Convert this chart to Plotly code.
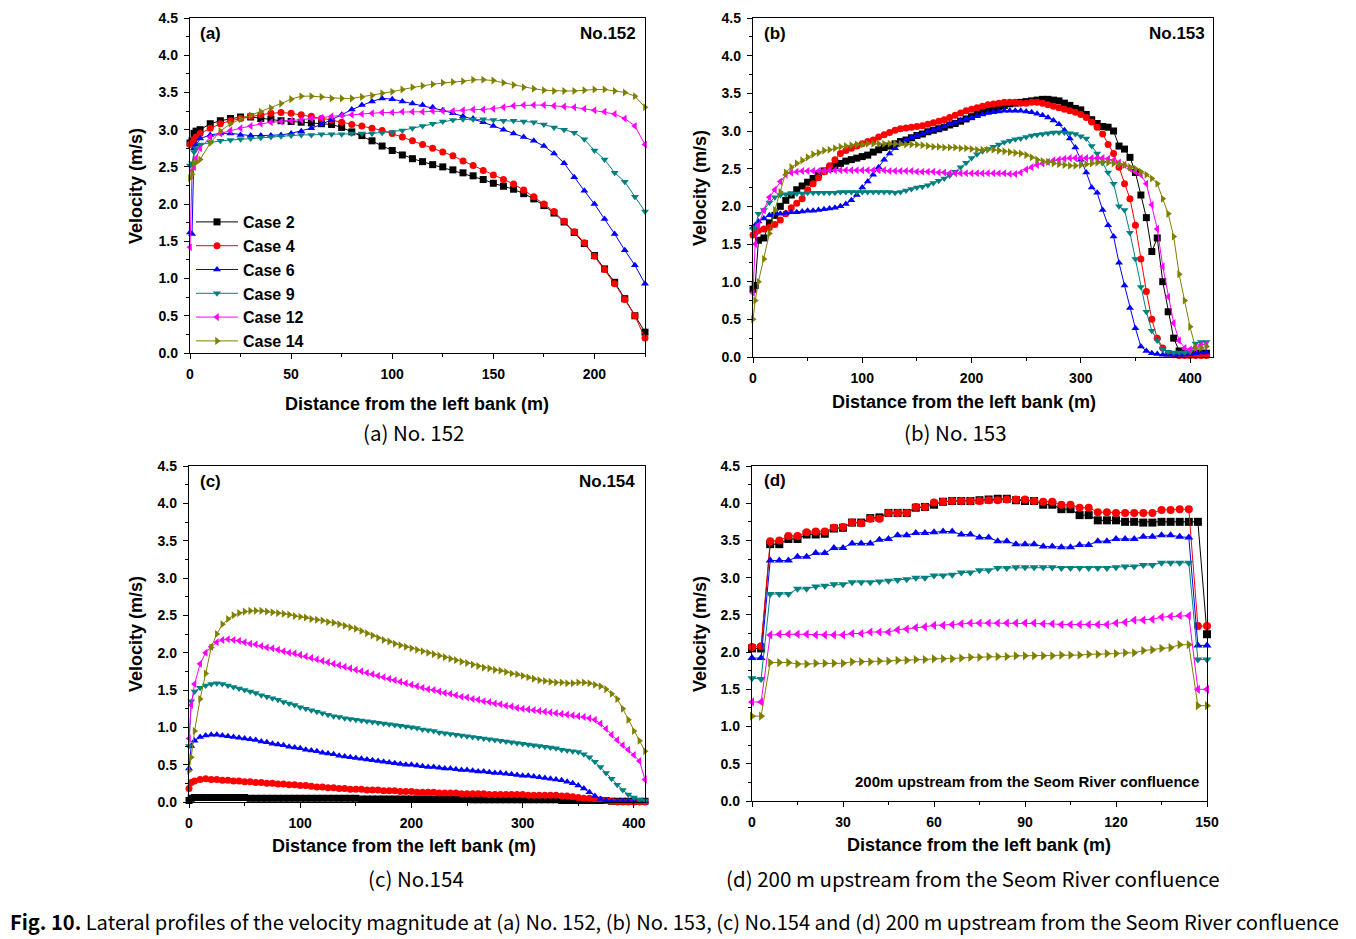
import plotly.graph_objects as go

W, H = 1356, 939

case_names = ["Case 2", "Case 4", "Case 6", "Case 9", "Case 12", "Case 14"]
case_colors = ["#000000", "#FF0000", "#0000FF", "#008080", "#FF00FF", "#808000"]
case_symbols = ["square", "circle", "triangle-up", "triangle-down", "triangle-left", "triangle-right"]

# ---- (a) No.152 ----
x_a = [0, 1, 2, 3, 5, 10, 15, 20, 25, 30, 35, 40, 45, 50, 55, 60, 65, 70, 75, 80, 85, 90, 95, 100,
       105, 110, 115, 120, 125, 130, 135, 140, 145, 150, 155, 160, 165, 170, 175, 180, 185, 190,
       195, 200, 205, 210, 215, 220, 225]
a_case2 = [2.82, 2.85, 2.95, 2.98, 3.0, 3.08, 3.12, 3.15, 3.17, 3.17, 3.15, 3.14, 3.12, 3.11, 3.1,
           3.09, 3.08, 3.07, 3.03, 2.97, 2.92, 2.85, 2.78, 2.72, 2.66, 2.61, 2.57, 2.53, 2.5, 2.46,
           2.42, 2.38, 2.33, 2.28, 2.24, 2.2, 2.14, 2.07, 1.98, 1.88, 1.76, 1.62, 1.47, 1.31, 1.13,
           0.95, 0.73, 0.5, 0.28]
a_case4 = [2.8, 2.82, 2.86, 2.9, 2.95, 3.02, 3.08, 3.12, 3.15, 3.18, 3.2, 3.22, 3.23, 3.22, 3.2,
           3.18, 3.15, 3.13, 3.1, 3.07, 3.05, 3.02, 2.99, 2.95, 2.9, 2.85, 2.8, 2.75, 2.7, 2.65,
           2.58, 2.52, 2.45, 2.39, 2.33, 2.27, 2.19, 2.1, 2.0, 1.9, 1.77, 1.63, 1.48, 1.3, 1.12,
           0.93, 0.72, 0.5, 0.2]
a_case6 = [1.62, 1.6, 2.75, 2.8, 2.88, 2.93, 2.95, 2.95, 2.93, 2.92, 2.92, 2.92, 2.93, 2.95, 2.98,
           3.02, 3.07, 3.13, 3.2, 3.27, 3.33, 3.38, 3.42, 3.41, 3.38, 3.35, 3.33, 3.3, 3.26, 3.22,
           3.18, 3.15, 3.1, 3.05, 3.0, 2.95, 2.9, 2.85, 2.78, 2.68, 2.55, 2.36, 2.18, 2.0, 1.8,
           1.6, 1.38, 1.18, 0.93]
a_case9 = [2.52, 2.55, 2.7, 2.75, 2.8, 2.83, 2.85, 2.86, 2.87, 2.88, 2.89, 2.9, 2.91, 2.92, 2.93,
           2.93, 2.94, 2.94, 2.94, 2.95, 2.95, 2.95, 2.96, 2.97, 2.99, 3.02, 3.05, 3.08, 3.11, 3.13,
           3.14, 3.14, 3.14, 3.13, 3.12, 3.12, 3.11, 3.1, 3.07, 3.03, 3.0, 2.96, 2.87, 2.72, 2.6,
           2.42, 2.3, 2.1, 1.9]
a_case12 = [1.42, 2.45, 2.5, 2.62, 2.75, 2.9, 2.95, 2.99, 3.02, 3.05, 3.08, 3.1, 3.11, 3.12, 3.13,
            3.15, 3.16, 3.18, 3.19, 3.2, 3.21, 3.22, 3.23, 3.23, 3.24, 3.24, 3.24, 3.25, 3.25, 3.25,
            3.26, 3.27, 3.27, 3.28, 3.3, 3.32, 3.33, 3.33, 3.33, 3.32, 3.31, 3.3, 3.28, 3.26, 3.24,
            3.21, 3.15, 3.05, 2.8]
a_case14 = [2.35, 2.4, 2.55, 2.56, 2.6, 2.82, 2.98, 3.08, 3.14, 3.19, 3.24, 3.29, 3.35, 3.41, 3.45,
            3.45, 3.44, 3.42, 3.42, 3.42, 3.44, 3.46, 3.49, 3.51, 3.54, 3.57, 3.59, 3.61, 3.63, 3.64,
            3.65, 3.67, 3.67, 3.66, 3.63, 3.6, 3.57, 3.55, 3.53, 3.52, 3.52, 3.52, 3.53, 3.54, 3.54,
            3.52, 3.5, 3.45, 3.3]

# ---- (b) No.153 ----
x_b = [0, 2,
       5, 10, 15, 20, 25, 30, 35, 40, 45, 50,
       55, 60, 65, 70, 75, 80, 85, 90, 95, 100,
       105, 110, 115, 120, 125, 130, 135, 140, 145, 150,
       155, 160, 165, 170, 175, 180, 185, 190, 195, 200,
       205, 210, 215, 220, 225, 230, 235, 240, 245, 250,
       255, 260, 265, 270, 275, 280, 285, 290, 295, 300,
       305, 310, 315, 320, 325, 330, 335, 340, 345, 350,
       355, 360, 365, 370, 375, 380, 385, 390, 395, 400,
       405, 410, 415]
b_case2 = [0.9, 0.95,
           1.55, 1.58, 1.78, 1.88, 2.0, 2.08, 2.15, 2.22, 2.27, 2.32,
           2.37, 2.42, 2.47, 2.5, 2.54, 2.57, 2.6, 2.62, 2.64, 2.66,
           2.68, 2.72, 2.75, 2.78, 2.8, 2.83, 2.86, 2.88, 2.91, 2.94,
           2.96, 2.99, 3.01, 3.03, 3.05, 3.08, 3.1, 3.13, 3.16, 3.19,
           3.22, 3.25, 3.27, 3.3, 3.32, 3.34, 3.36, 3.37, 3.38, 3.39,
           3.4, 3.41, 3.42, 3.42, 3.41, 3.4, 3.37, 3.34, 3.3, 3.28,
           3.22, 3.15, 3.1, 3.06, 3.05, 3.0, 2.8, 2.76, 2.65, 2.45,
           2.15, 1.85, 1.4, 1.58, 1.0, 0.6, 0.25, 0.08, 0.05, 0.05,
           0.05, 0.05, 0.05]
b_case4 = [1.62, 1.65,
           1.68, 1.7, 1.72, 1.76, 1.82, 1.9, 1.98, 2.04, 2.1, 2.22,
           2.3, 2.38, 2.46, 2.54, 2.62, 2.7, 2.74, 2.77, 2.8, 2.83,
           2.86, 2.88, 2.92, 2.95, 2.98, 3.01, 3.03, 3.04, 3.05, 3.06,
           3.07, 3.09, 3.11, 3.13, 3.15, 3.18, 3.21, 3.24, 3.27, 3.29,
           3.31, 3.33, 3.35, 3.36, 3.37, 3.38, 3.38, 3.38, 3.37, 3.37,
           3.38, 3.38, 3.37, 3.35, 3.33, 3.31, 3.29, 3.27, 3.25, 3.22,
           3.18, 3.12, 3.05, 2.96, 2.82, 2.7, 2.52, 2.3, 2.1, 1.75,
           1.3, 0.87, 0.5, 0.25, 0.12, 0.05, 0.03, 0.02, 0.02, 0.02,
           0.02, 0.02, 0.02]
b_case6 = [1.72, 1.75,
           1.8, 1.84, 1.88, 1.9, 1.9, 1.91, 1.92, 1.92, 1.93, 1.94,
           1.94, 1.95, 1.96, 1.97, 1.98, 2.0, 2.03, 2.08, 2.15, 2.25,
           2.33, 2.42, 2.52, 2.62, 2.7, 2.77, 2.83, 2.88, 2.91, 2.94,
           2.96, 2.99, 3.01, 3.03, 3.06, 3.09, 3.11, 3.14, 3.16, 3.18,
           3.2, 3.22, 3.24, 3.25, 3.26, 3.27, 3.27, 3.27, 3.27, 3.26,
           3.25, 3.23, 3.21, 3.18, 3.14, 3.09, 3.01, 2.9, 2.78, 2.62,
           2.45, 2.25, 2.18, 1.95, 1.75, 1.6, 1.25, 0.95, 0.65, 0.38,
           0.14, 0.08, 0.05, 0.04, 0.03, 0.03, 0.03, 0.03, 0.03, 0.04,
           0.05, 0.06, 0.06]
b_case9 = [1.7, 1.72,
           1.9, 1.95, 2.05, 2.12, 2.15, 2.16, 2.17, 2.17, 2.17, 2.18,
           2.18, 2.18, 2.18, 2.18, 2.18, 2.19, 2.19, 2.19, 2.19, 2.19,
           2.19, 2.19, 2.19, 2.19, 2.19, 2.18, 2.19, 2.21, 2.23, 2.25,
           2.26, 2.28, 2.31, 2.34, 2.37, 2.41, 2.46, 2.52, 2.58, 2.64,
           2.69, 2.73, 2.76, 2.79, 2.82, 2.85, 2.87, 2.89, 2.9, 2.92,
           2.94, 2.95, 2.96, 2.97, 2.98, 2.98, 2.98, 2.97, 2.96, 2.93,
           2.9, 2.8, 2.7, 2.58, 2.45, 2.3, 2.0, 1.95, 1.65, 1.3,
           0.93, 0.6, 0.35, 0.22, 0.1, 0.07, 0.06, 0.06, 0.06, 0.07,
           0.18, 0.2, 0.2]
b_case12 = [0.85, 1.5,
            1.75, 1.95, 2.12, 2.22, 2.33, 2.42, 2.45, 2.46, 2.47, 2.47,
            2.47, 2.47, 2.47, 2.48, 2.48, 2.48, 2.48, 2.48, 2.48, 2.48,
            2.48, 2.48, 2.48, 2.48, 2.47, 2.47, 2.47, 2.47, 2.47, 2.46,
            2.46, 2.46, 2.46, 2.45, 2.45, 2.44, 2.44, 2.44, 2.44, 2.44,
            2.44, 2.44, 2.44, 2.44, 2.44, 2.44, 2.43, 2.43, 2.45, 2.49,
            2.52, 2.55, 2.57, 2.59, 2.61, 2.62, 2.63, 2.64, 2.64, 2.64,
            2.64, 2.64, 2.64, 2.64, 2.63, 2.61, 2.58, 2.55, 2.5, 2.46,
            2.42, 2.3, 2.02, 1.7, 1.2, 0.8, 0.45, 0.22, 0.12, 0.1,
            0.12, 0.16, 0.17]
b_case14 = [0.5, 0.75,
            1.0, 1.3, 1.64, 1.95, 2.19, 2.45, 2.52, 2.57, 2.61, 2.65,
            2.69, 2.71, 2.74, 2.75, 2.77, 2.79, 2.8, 2.81, 2.82, 2.82,
            2.83, 2.83, 2.83, 2.83, 2.83, 2.83, 2.83, 2.82, 2.82, 2.82,
            2.81, 2.8, 2.79, 2.79, 2.78, 2.78, 2.78, 2.77, 2.77, 2.76,
            2.75, 2.75, 2.75, 2.75, 2.74, 2.73, 2.72, 2.71, 2.7, 2.68,
            2.65, 2.62, 2.6, 2.59, 2.57, 2.56, 2.55, 2.54, 2.54, 2.55,
            2.56, 2.57, 2.58, 2.59, 2.58, 2.57, 2.56, 2.55, 2.52, 2.5,
            2.46, 2.42, 2.37, 2.3, 2.1, 1.9, 1.6, 1.1, 0.75, 0.4,
            0.12, 0.12, 0.14]

# ---- (c) No.154 ----
x_c = [0, 2,
       5, 10, 15, 20, 25, 30, 35, 40, 45, 50,
       55, 60, 65, 70, 75, 80, 85, 90, 95, 100,
       105, 110, 115, 120, 125, 130, 135, 140, 145, 150,
       155, 160, 165, 170, 175, 180, 185, 190, 195, 200,
       205, 210, 215, 220, 225, 230, 235, 240, 245, 250,
       255, 260, 265, 270, 275, 280, 285, 290, 295, 300,
       305, 310, 315, 320, 325, 330, 335, 340, 345, 350,
       355, 360, 365, 370, 375, 380, 385, 390, 395, 400,
       405, 410]
c_case2 = [0.02, 0.05,
           0.06, 0.06, 0.06, 0.06, 0.06, 0.06, 0.06, 0.06, 0.06, 0.06,
           0.05, 0.05, 0.05, 0.05, 0.05, 0.05, 0.05, 0.05, 0.05, 0.05,
           0.05, 0.05, 0.05, 0.05, 0.05, 0.05, 0.05, 0.05, 0.05, 0.05,
           0.04, 0.04, 0.04, 0.04, 0.04, 0.04, 0.04, 0.04, 0.04, 0.04,
           0.04, 0.04, 0.04, 0.04, 0.04, 0.04, 0.04, 0.04, 0.04, 0.04,
           0.03, 0.03, 0.03, 0.03, 0.03, 0.03, 0.03, 0.03, 0.03, 0.03,
           0.03, 0.03, 0.03, 0.03, 0.03, 0.03, 0.02, 0.02, 0.02, 0.02,
           0.02, 0.02, 0.02, 0.02, 0.02, 0.01, 0.01, 0.01, 0.01, 0.01,
           0.01, 0.01]
c_case4 = [0.18, 0.26,
           0.28, 0.3, 0.31, 0.3, 0.3, 0.29, 0.29, 0.28, 0.28, 0.27,
           0.27, 0.26, 0.26, 0.25, 0.25, 0.24, 0.24, 0.23, 0.23, 0.22,
           0.22, 0.21, 0.2, 0.2, 0.19, 0.19, 0.18, 0.18, 0.17, 0.17,
           0.17, 0.16, 0.16, 0.16, 0.15, 0.15, 0.15, 0.14, 0.14, 0.14,
           0.13, 0.13, 0.13, 0.13, 0.12, 0.12, 0.12, 0.12, 0.11, 0.11,
           0.11, 0.11, 0.11, 0.1, 0.1, 0.1, 0.1, 0.1, 0.1, 0.1,
           0.09, 0.09, 0.09, 0.09, 0.09, 0.09, 0.08, 0.08, 0.07, 0.06,
           0.05, 0.05, 0.04, 0.03, 0.02, 0.01, 0.0, 0.0, 0.0, 0.0,
           0.0, 0.0]
c_case6 = [0.45, 0.75,
           0.82, 0.87, 0.89, 0.9, 0.9, 0.89, 0.88, 0.87, 0.86, 0.85,
           0.84, 0.83, 0.81, 0.8, 0.78, 0.77, 0.76, 0.74, 0.73, 0.72,
           0.7, 0.69, 0.68, 0.66, 0.65, 0.64, 0.62, 0.61, 0.6, 0.59,
           0.58, 0.57, 0.56, 0.55, 0.54, 0.53, 0.52, 0.51, 0.5, 0.5,
           0.49, 0.48, 0.47, 0.47, 0.46, 0.45, 0.45, 0.44, 0.43, 0.43,
           0.42, 0.41, 0.41, 0.4, 0.39, 0.39, 0.38, 0.37, 0.36, 0.35,
           0.35, 0.34, 0.33, 0.32, 0.31, 0.3, 0.29, 0.27, 0.25, 0.22,
           0.18, 0.13, 0.08, 0.04, 0.02, 0.01, 0.01, 0.01, 0.01, 0.01,
           0.01, 0.01]
c_case9 = [0.75, 1.35,
           1.48, 1.53, 1.56, 1.58, 1.59, 1.58, 1.56, 1.54, 1.52, 1.5,
           1.48, 1.46, 1.43, 1.41, 1.39, 1.37, 1.34, 1.32, 1.3, 1.27,
           1.25, 1.23, 1.21, 1.19, 1.17, 1.15, 1.14, 1.12, 1.11, 1.1,
           1.09, 1.08, 1.07, 1.06, 1.05, 1.04, 1.03, 1.02, 1.01, 1.0,
           0.99, 0.97, 0.96, 0.95, 0.93, 0.92, 0.91, 0.9, 0.89, 0.88,
           0.87, 0.86, 0.85, 0.84, 0.83, 0.82, 0.81, 0.8, 0.79, 0.78,
           0.77, 0.76, 0.75, 0.74, 0.73, 0.72, 0.7, 0.69, 0.68, 0.67,
           0.64, 0.6, 0.54, 0.47, 0.39, 0.31, 0.23, 0.16, 0.1, 0.06,
           0.03, 0.02]
c_case12 = [0.85, 1.3,
            1.58, 1.85, 2.0, 2.08, 2.14, 2.17, 2.18, 2.17, 2.16, 2.14,
            2.12, 2.11, 2.09, 2.07, 2.06, 2.04, 2.02, 2.0, 1.99, 1.97,
            1.95, 1.93, 1.91, 1.89, 1.87, 1.85, 1.83, 1.81, 1.79, 1.77,
            1.75, 1.73, 1.71, 1.69, 1.67, 1.65, 1.63, 1.61, 1.59, 1.57,
            1.55, 1.53, 1.51, 1.5, 1.48, 1.46, 1.45, 1.43, 1.41, 1.4,
            1.38, 1.37, 1.35, 1.34, 1.32, 1.31, 1.29, 1.28, 1.26, 1.25,
            1.24, 1.23, 1.22, 1.21, 1.2, 1.19, 1.18, 1.17, 1.16, 1.15,
            1.14, 1.12, 1.1, 1.05, 0.98, 0.9, 0.83, 0.76, 0.7, 0.63,
            0.55, 0.3]
c_case14 = [0.42, 0.6,
            0.95, 1.38, 1.72, 2.07, 2.25, 2.38, 2.45, 2.5, 2.53, 2.55,
            2.56, 2.56, 2.56, 2.55, 2.54, 2.53, 2.52, 2.51, 2.49, 2.48,
            2.47, 2.45, 2.44, 2.43, 2.41, 2.4, 2.38, 2.36, 2.34, 2.32,
            2.29, 2.26, 2.23, 2.2, 2.17, 2.15, 2.12, 2.1, 2.08, 2.06,
            2.04, 2.02, 2.0, 1.98, 1.96, 1.94, 1.92, 1.9, 1.88, 1.86,
            1.84, 1.82, 1.8, 1.79, 1.77, 1.76, 1.74, 1.72, 1.71, 1.69,
            1.67, 1.65, 1.63, 1.62, 1.61, 1.6, 1.6, 1.59, 1.59, 1.6,
            1.6, 1.59, 1.57, 1.55, 1.51, 1.45, 1.38, 1.25, 1.1, 0.95,
            0.82, 0.68]

# ---- (d) 200 m upstream from the Seom River confluence ----
x_d = [0, 3, 6, 9, 12, 15, 18, 21, 24, 27,
       30, 33, 36, 39, 42, 45, 48, 51, 54, 57,
       60, 63, 66, 69, 72, 75, 78, 81, 84, 87,
       90, 93, 96, 99, 102, 105, 108, 111, 114, 117,
       120, 123, 126, 129, 132, 135, 138, 141, 144, 147,
       150]
d_case2 = [2.05, 2.05, 3.45, 3.45, 3.52, 3.52, 3.58, 3.58, 3.59, 3.66,
           3.67, 3.74, 3.74, 3.8, 3.81, 3.87, 3.87, 3.87, 3.94, 3.95,
           3.98, 4.02, 4.03, 4.03, 4.03, 4.04, 4.05, 4.06, 4.06, 4.04,
           4.03, 4.03, 3.98, 3.98, 3.92, 3.92, 3.84, 3.84, 3.77, 3.77,
           3.77, 3.75, 3.75, 3.74, 3.74, 3.75, 3.75, 3.75, 3.75, 3.75,
           2.24]
d_case4 = [2.07, 2.08, 3.49, 3.5, 3.56, 3.56, 3.61, 3.62, 3.62, 3.67,
           3.68, 3.74, 3.73, 3.79, 3.79, 3.87, 3.87, 3.87, 3.95, 3.95,
           4.01, 4.02, 4.03, 4.03, 4.03, 4.03, 4.04, 4.04, 4.05, 4.05,
           4.05, 4.03, 4.02, 4.02, 3.98, 3.98, 3.94, 3.94, 3.88, 3.88,
           3.87, 3.87, 3.87, 3.87, 3.87, 3.91, 3.91, 3.92, 3.92, 2.35,
           2.35]
d_case6 = [1.92, 1.92, 3.23, 3.23, 3.23, 3.28, 3.28, 3.33, 3.33, 3.4,
           3.4, 3.46, 3.46, 3.46, 3.51, 3.52, 3.57, 3.57, 3.6, 3.6,
           3.61, 3.62, 3.62, 3.58, 3.58, 3.54, 3.54, 3.49, 3.49, 3.45,
           3.45, 3.45, 3.42, 3.42, 3.41, 3.41, 3.44, 3.44, 3.49, 3.49,
           3.52, 3.52, 3.52, 3.55, 3.55, 3.57, 3.57, 3.55, 3.54, 2.09,
           2.09]
d_case9 = [1.65, 1.64, 2.78, 2.78, 2.78, 2.85, 2.85, 2.88, 2.89, 2.91,
           2.91, 2.94, 2.94, 2.94, 2.95, 2.96, 2.97, 2.98, 3.0, 3.0,
           3.03, 3.03, 3.04, 3.07, 3.07, 3.1, 3.1, 3.13, 3.13, 3.14,
           3.14, 3.14, 3.14, 3.14, 3.13, 3.13, 3.13, 3.13, 3.13, 3.13,
           3.14, 3.15, 3.15, 3.17, 3.17, 3.2, 3.2, 3.2, 3.2, 1.9,
           1.9]
d_case12 = [1.33, 1.33, 2.23, 2.24, 2.24, 2.24, 2.24, 2.23, 2.23, 2.23,
            2.23, 2.25, 2.25, 2.27, 2.27, 2.27, 2.3, 2.31, 2.33, 2.34,
            2.36, 2.36, 2.37, 2.38, 2.39, 2.39, 2.39, 2.39, 2.39, 2.39,
            2.39, 2.39, 2.38, 2.38, 2.37, 2.37, 2.37, 2.37, 2.37, 2.37,
            2.39, 2.4, 2.43, 2.43, 2.44, 2.47, 2.48, 2.49, 2.49, 1.5,
            1.5]
d_case14 = [1.14, 1.14, 1.86, 1.86, 1.86, 1.84, 1.84, 1.85, 1.85, 1.85,
            1.85, 1.87, 1.87, 1.87, 1.88, 1.88, 1.89, 1.89, 1.9, 1.9,
            1.91, 1.91, 1.91, 1.92, 1.93, 1.93, 1.94, 1.94, 1.94, 1.95,
            1.95, 1.95, 1.95, 1.95, 1.96, 1.96, 1.96, 1.97, 1.97, 1.98,
            1.98, 1.99, 1.99, 2.02, 2.03, 2.05, 2.06, 2.1, 2.1, 1.28,
            1.28]

ARIAL = "Liberation Sans, Arial, sans-serif"
CAPTION = "Noto Sans CJK KR, Noto Sans, sans-serif"


def fx(px):
    return px / W


def fy(py):
    return 1 - py / H


# panel: x data, series, plot box in pixels (left, right, top, bottom), x range, major, minor, marker size
panels = [
    (x_a, [a_case2, a_case4, a_case6, a_case9, a_case12, a_case14], (190, 645, 18, 353), [0, 225], 50, 25, 7),
    (x_b, [b_case2, b_case4, b_case6, b_case9, b_case12, b_case14], (753, 1213, 18, 357), [0, 421], 100, 50, 7),
    (x_c, [c_case2, c_case4, c_case6, c_case9, c_case12, c_case14], (189, 645, 466, 802), [0, 410], 100, 50, 7),
    (x_d, [d_case2, d_case4, d_case6, d_case9, d_case12, d_case14], (752, 1207, 466, 801), [0, 150], 30, 15, 8),
]

fig = go.Figure()
axes = {}
for i, (xs, series, box, xr, dt, mdt, msize) in enumerate(panels):
    n = "" if i == 0 else str(i + 1)
    for k, ys in enumerate(series):
        fig.add_trace(go.Scatter(
            x=xs, y=ys, mode="lines+markers", name=case_names[k],
            legendgroup=case_names[k], showlegend=(i == 0),
            line=dict(color=case_colors[k], width=1),
            marker=dict(symbol=case_symbols[k], size=msize, color=case_colors[k], line=dict(width=0)),
            xaxis="x" + n, yaxis="y" + n, cliponaxis=False,
        ))
    left, right, top, bottom = box
    common = dict(showline=True, linecolor="black", linewidth=1.3, mirror=True,
                  ticks="outside", ticklen=5, tickwidth=1.3, tickcolor="black",
                  showgrid=False, zeroline=False, automargin=False, ticklabelstandoff=3,
                  tickfont=dict(family=ARIAL, size=14, color="black", weight="bold"))
    axes["xaxis" + n] = dict(domain=[fx(left), fx(right)], range=xr, tick0=0, dtick=dt,
                             anchor="y" + n,
                             minor=dict(dtick=mdt, tick0=0, ticks="outside", ticklen=3,
                                        tickwidth=1.1, tickcolor="black"),
                             **common)
    axes["yaxis" + n] = dict(domain=[fy(bottom), fy(top)], range=[0, 4.5], tick0=0, dtick=0.5,
                             tickformat=".1f", anchor="x" + n,
                             minor=dict(dtick=0.25, tick0=0, ticks="outside", ticklen=3,
                                        tickwidth=1.1, tickcolor="black"),
                             **common)

ann = []


def label(text, x, y, size, xanchor="center", yanchor="middle", family=ARIAL, bold=True, angle=0):
    ann.append(dict(text=text, x=fx(x), y=fy(y), xref="paper", yref="paper", showarrow=False,
                    xanchor=xanchor, yanchor=yanchor, textangle=angle,
                    font=dict(family=family, size=size, color="black",
                              weight="bold" if bold else "normal")))


# axis titles
for cx, cy in [(417, 404), (964, 402), (404, 846), (979, 845)]:
    label("Distance from the left bank (m)", cx, cy, 18)
for cx, cy in [(136, 186), (700, 188), (136, 634), (700, 634)]:
    label("Velocity (m/s)", cx, cy, 18, angle=-90)

# panel tags
label("(a)", 198, 33, 17, xanchor="left")
label("No.152", 638, 34, 17, xanchor="right")
label("(b)", 762, 33, 17, xanchor="left")
label("No.153", 1207, 34, 17, xanchor="right")
label("(c)", 198, 482, 17, xanchor="left")
label("No.154", 637, 482, 17, xanchor="right")
label("(d)", 762, 480, 17, xanchor="left")
label("200m upstream from the Seom River confluence", 1201, 781, 15, xanchor="right")

# sub-captions and figure caption
label("(a) No. 152", 413, 432, 20.5, family=CAPTION, bold=False)
label("(b) No. 153", 955, 432, 20.5, family=CAPTION, bold=False)
label("(c) No.154", 416, 878, 20.5, family=CAPTION, bold=False)
label("(d) 200 m upstream from the Seom River confluence", 973, 878, 20.5, family=CAPTION, bold=False)
label("<b>Fig. 10.</b> Lateral profiles of the velocity magnitude at (a) No. 152, (b) No. 153, "
      "(c) No.154 and (d) 200 m upstream from the Seom River confluence",
      8, 921, 20.1, xanchor="left", family=CAPTION, bold=False)

fig.update_layout(
    width=W, height=H, margin=dict(l=0, r=0, t=0, b=0),
    paper_bgcolor="white", plot_bgcolor="white",
    annotations=ann,
    legend=dict(x=fx(191), y=fy(205), xanchor="left", yanchor="top",
                bgcolor="rgba(0,0,0,0)", tracegroupgap=0, itemwidth=42,
                font=dict(family=ARIAL, size=16, color="black", weight="bold")),
    **axes,
)

fig.write_html("out.html", config={"displayModeBar": False},
               post_script="document.body.style.margin='0';")
